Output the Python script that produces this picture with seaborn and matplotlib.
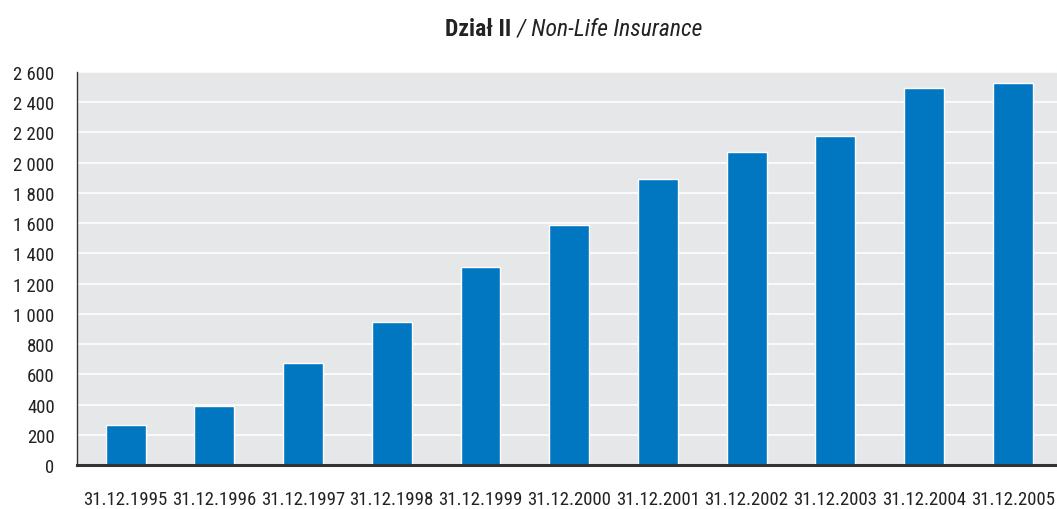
import numpy as np
import pandas as pd
import matplotlib
matplotlib.use("Agg")
import matplotlib.pyplot as plt
import seaborn as sns
from matplotlib.ticker import FuncFormatter, FixedLocator

dates = ["31.12.1995", "31.12.1996", "31.12.1997", "31.12.1998", "31.12.1999",
         "31.12.2000", "31.12.2001", "31.12.2002", "31.12.2003", "31.12.2004",
         "31.12.2005"]
values = [265, 390, 675, 946, 1310, 1588, 1892, 2070, 2176, 2494, 2527]

df = pd.DataFrame({"date": dates, "value": values})

sns.set_style("white")
plt.rcParams['font.family'] = ['Roboto Condensed', 'DejaVu Sans']

fig = plt.figure(figsize=(10.57, 5.10), dpi=100)
ax = fig.add_axes([0.0728, 0.0863, 0.9272, 0.7707])
ax.set_facecolor("#e6e7e9")

sns.barplot(data=df, x="date", y="value", color="#0077c0", width=0.45,
            saturation=1, ax=ax, zorder=3)

ax.set_ylim(0, 2600)
ax.set_xlim(-0.55, len(dates) - 0.5)
ax.set_yticks(np.arange(0, 2601, 200))
ax.yaxis.set_major_formatter(FuncFormatter(lambda v, p: f"{int(v):,}".replace(",", " ")))
ax.grid(axis="y", color="white", linewidth=1.2, zorder=0)
ax.set_axisbelow(True)

ax.set_xlabel("")
ax.set_ylabel("")

# x ticks between categories
ax.xaxis.set_minor_locator(FixedLocator(np.arange(-0.5, len(dates), 1.0)))
ax.tick_params(axis="x", which="minor", length=6, width=1, color="#333333", direction="out")
ax.tick_params(axis="x", which="major", length=0, pad=18, labelsize=13.5, labelcolor="#222222")
ax.tick_params(axis="y", which="major", length=6, width=1, color="#333333", direction="out",
               pad=10, labelsize=13.5, labelcolor="#222222")

for s in ["top", "right"]:
    ax.spines[s].set_visible(False)
ax.spines["left"].set_color("#333333")
ax.spines["left"].set_linewidth(1)
ax.spines["bottom"].set_color("#333333")
ax.spines["bottom"].set_linewidth(2.2)
ax.spines["bottom"].set_zorder(5)

fig.text(0.484, 0.943, "Dział II", ha="right", va="center", fontsize=17,
         fontweight="bold", color="#222222")
fig.text(0.484, 0.943, " / Non-Life Insurance", ha="left", va="center", fontsize=17,
         style="italic", color="#222222")

fig.savefig("out.png", dpi=100)
